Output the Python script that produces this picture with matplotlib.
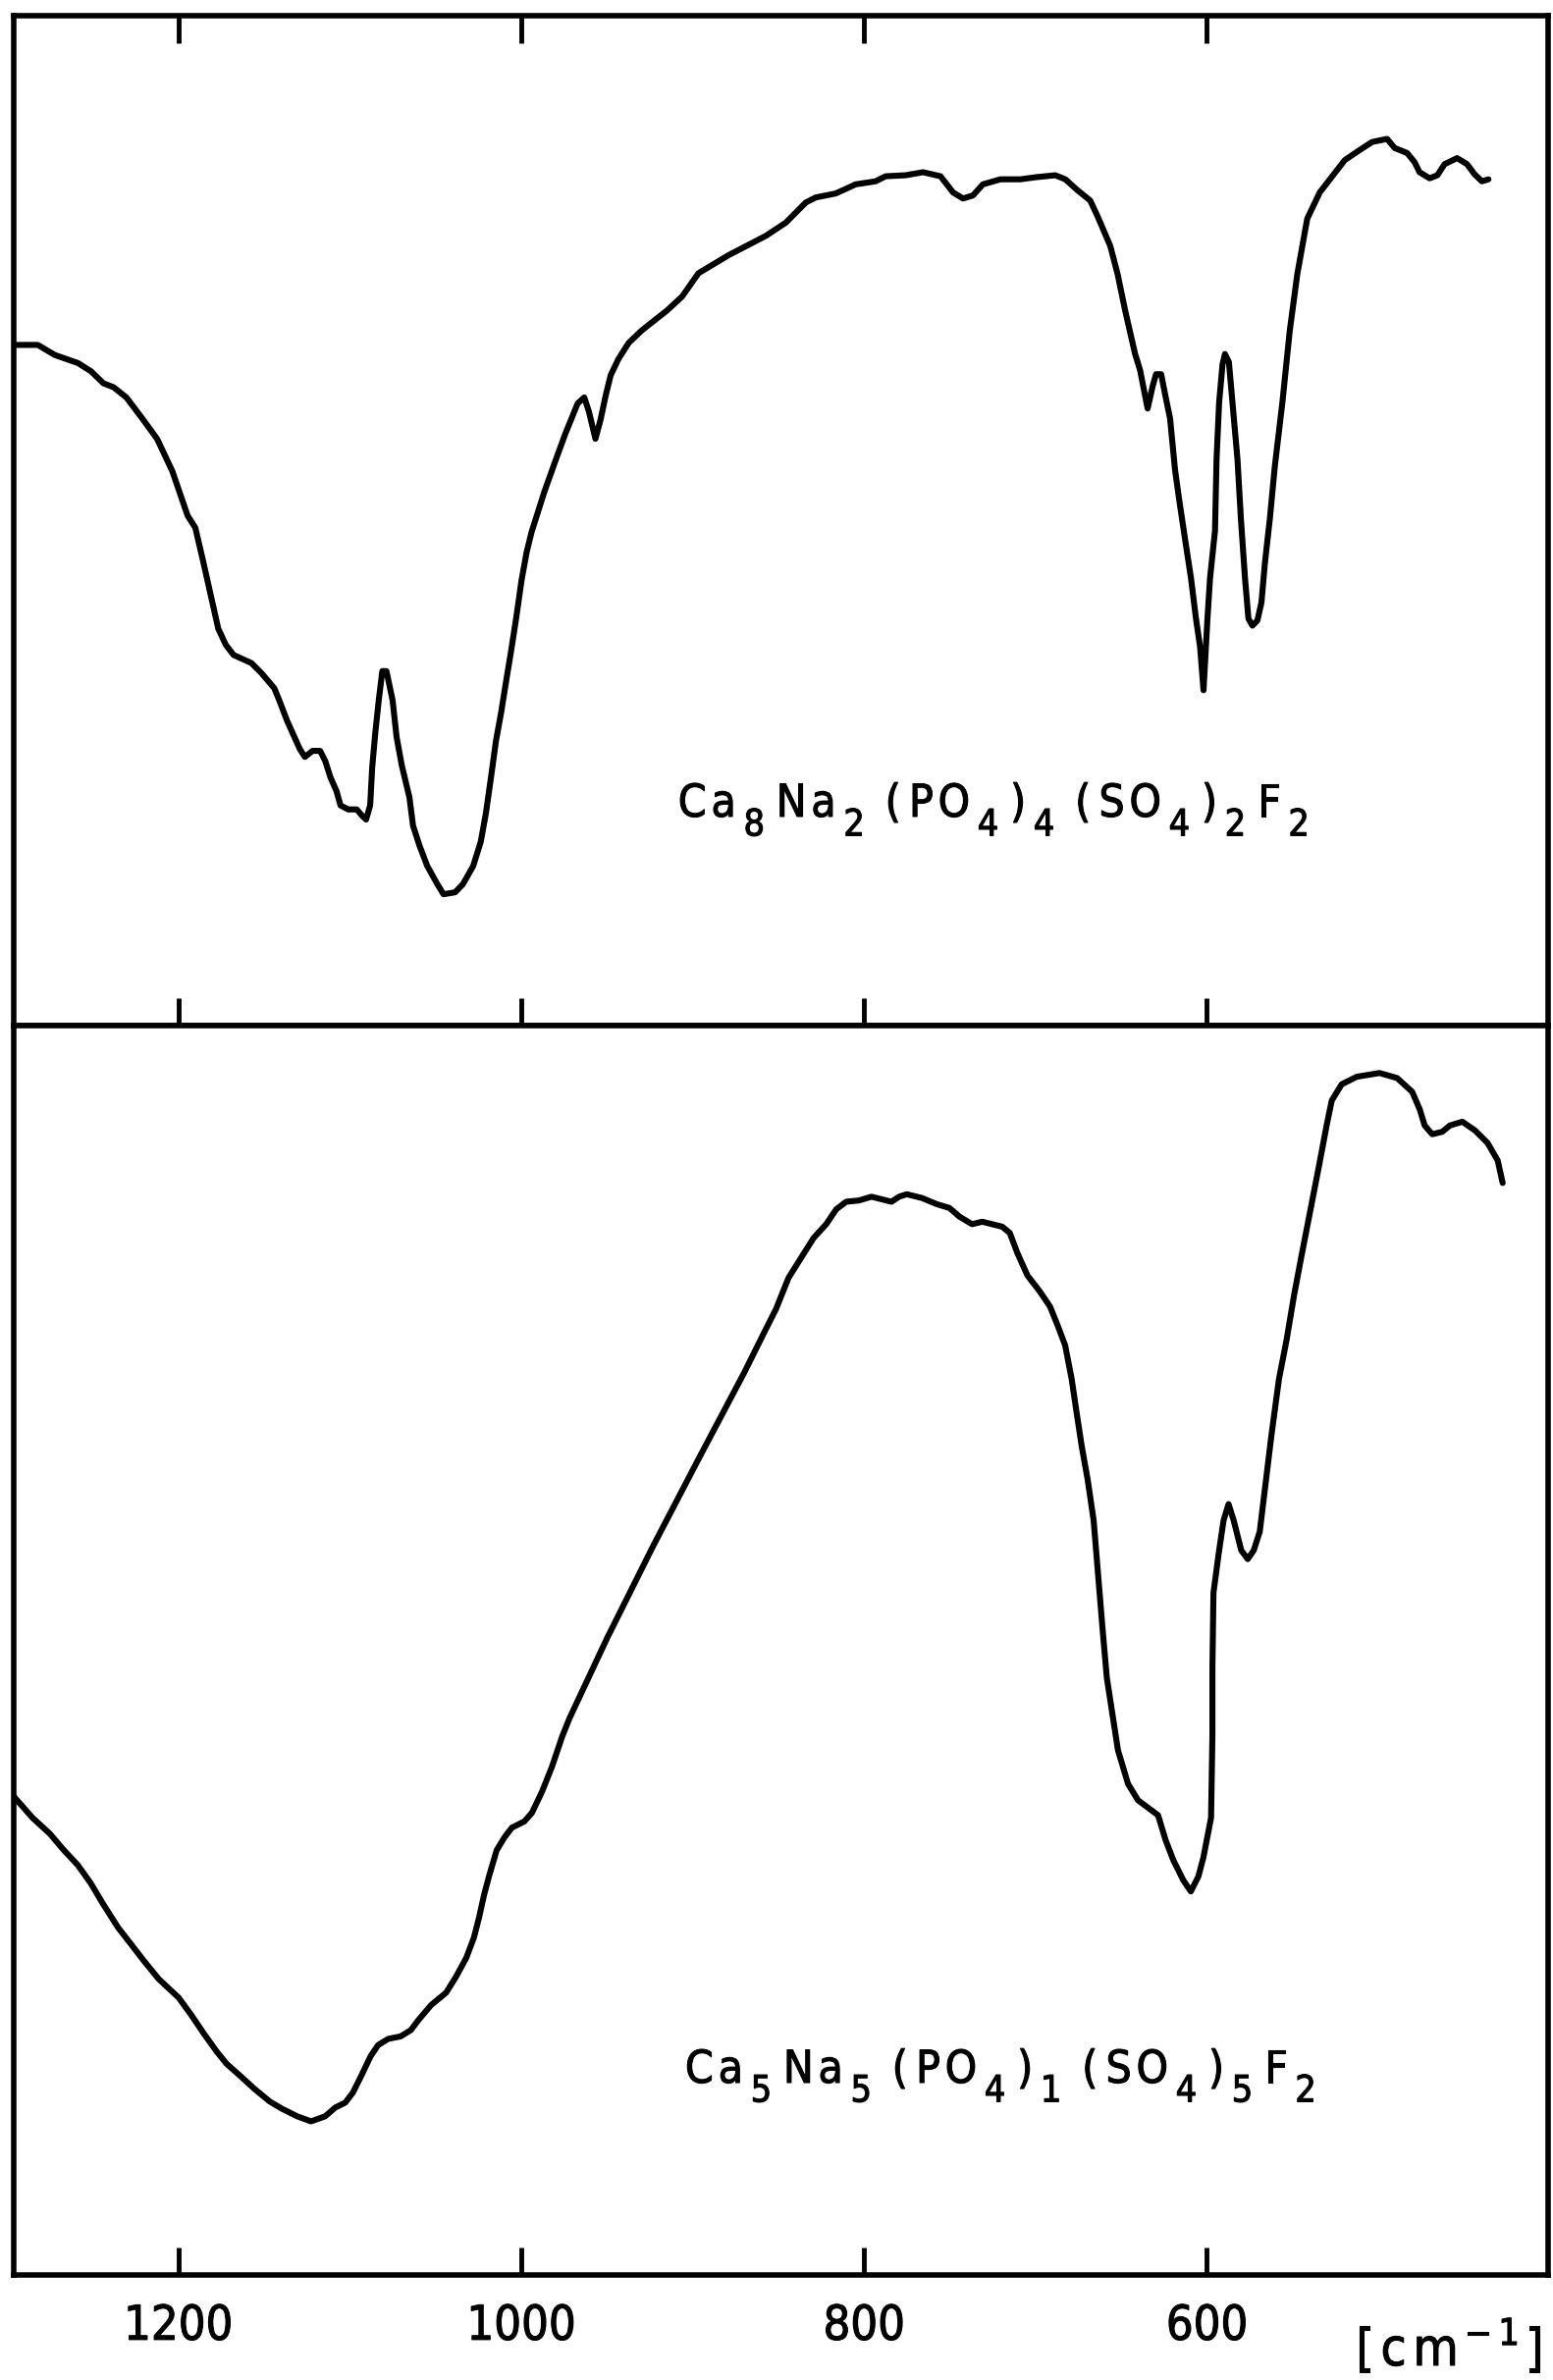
import matplotlib
matplotlib.use("Agg")
import matplotlib.pyplot as plt
from matplotlib import font_manager as fm
from matplotlib import patheffects as pe
from matplotlib.font_manager import FontProperties

# ---------------------------------------------------------------- data
top_wavenumber = [
    1296, 1282, 1272, 1258.5, 1251, 1243.7, 1237.7, 1230.3, 1221.4, 1212.4,
    1203.5, 1194.6, 1190.1, 1185.7, 1181.2, 1176.7, 1172.3, 1167.8, 1157.4, 1151.5,
    1144.0, 1141.1, 1136.6, 1129.2, 1126.2, 1121.7, 1117.3, 1114.3, 1111.3, 1107.7,
    1105.4, 1100.9, 1095.9, 1092.9, 1090.5, 1088.1, 1086.9, 1085.1, 1083.1, 1081.0,
    1078.6, 1075.0, 1072.7, 1069.7, 1065.2, 1063.1, 1059.3, 1054.8, 1048.9, 1045.3,
    1038.5, 1034.0, 1028.0, 1023.6, 1020.6, 1017.6, 1014.7, 1011.7, 1008.7, 1005.7,
    1002.8, 999.8, 996.8, 993.9, 990.9, 986.4, 980.5, 974.5, 967.1, 963.2,
    960.5, 956.7, 953.7, 950.7, 947.8, 943.3, 937.3, 929.9, 924.0, 915.0,
    906.1, 896.6, 878.9, 857.3, 845.7, 834.0, 828.2, 816.5, 804.9, 793.3,
    787.4, 775.8, 765.6, 755.4, 748.1, 742.3, 736.5, 730.7, 720.5, 708.8,
    700.1, 688.5, 682.6, 675.4, 668.1, 663.7, 656.4, 652.1, 647.7, 641.9,
    639.0, 634.6, 631.7, 629.7, 626.7, 624.4, 621.5, 618.6, 616.3, 612.8,
    609.3, 606.4, 604.0, 602.0, 599.7, 598.2, 595.3, 594.4, 592.9, 590.9,
    589.5, 587.2, 585.1, 582.2, 580.2, 577.8, 575.8, 573.5, 570.6, 568.2,
    566.2, 563.3, 560.4, 556.0, 551.7, 547.3, 541.5, 534.2, 526.9, 519.6,
    510.9, 503.6, 494.9, 490.5, 483.2, 478.9, 476.0, 470.1, 465.6, 461.4,
    454.1, 448.3, 443.9, 439.6, 435.8,
]
top_transmittance = [
    67.4, 67.4, 66.4, 65.6, 64.8, 63.6, 63.2, 62.2, 60.2, 58.1,
    54.9, 50.5, 49.3, 46.1, 42.7, 39.3, 37.7, 36.7, 35.9, 34.9,
    33.4, 32.2, 30.2, 27.4, 26.6, 27.2, 27.2, 26.2, 24.6, 23.2,
    21.8, 21.4, 21.4, 20.8, 20.4, 21.8, 25.6, 29.0, 32.2, 35.1,
    35.1, 32.2, 28.6, 25.8, 22.6, 19.8, 17.8, 15.8, 14.0, 13.0,
    13.2, 14.0, 15.8, 18.2, 21.0, 24.6, 28.2, 31.0, 34.2, 37.3,
    40.5, 44.1, 46.9, 48.9, 50.5, 52.9, 55.7, 58.5, 61.6, 62.2,
    60.8, 58.1, 60.0, 62.4, 64.4, 66.0, 67.6, 68.8, 69.6, 70.8,
    72.2, 74.5, 76.3, 78.2, 79.5, 81.5, 82.0, 82.4, 83.3, 83.6,
    84.1, 84.2, 84.5, 84.1, 82.5, 81.9, 82.2, 83.3, 83.8, 83.8,
    84.0, 84.2, 83.8, 82.7, 81.7, 80.1, 77.2, 74.4, 70.8, 66.5,
    64.9, 61.1, 63.3, 64.5, 64.5, 62.5, 60.1, 55.0, 52.2, 48.2,
    44.3, 40.3, 37.5, 33.2, 40.3, 44.3, 49.0, 56.1, 61.7, 65.5,
    66.5, 65.7, 61.7, 56.1, 50.2, 44.3, 40.3, 39.6, 40.1, 41.9,
    45.8, 50.2, 55.4, 61.7, 68.8, 74.4, 79.9, 82.5, 84.1, 85.7,
    86.7, 87.5, 87.8, 86.9, 86.4, 85.5, 84.5, 83.9, 84.2, 85.3,
    85.9, 85.3, 84.3, 83.6, 83.8,
]

bottom_wavenumber = [
    1296, 1285.1, 1274.8, 1267.4, 1258.6, 1251.3, 1243.9, 1235.1, 1227.7, 1220.4,
    1211.5, 1199.8, 1192.4, 1185.0, 1177.7, 1171.8, 1164.4, 1155.6, 1146.8, 1139.4,
    1130.6, 1122.6, 1114.4, 1108.5, 1102.6, 1098.2, 1093.8, 1087.9, 1083.5, 1077.6,
    1070.3, 1064.4, 1060.0, 1052.6, 1043.8, 1037.9, 1032.0, 1027.6, 1024.6, 1021.7,
    1018.8, 1014.3, 1009.9, 1005.5, 998.2, 993.7, 987.8, 982.0, 976.1, 971.7,
    949.8, 923.2, 896.6, 870.0, 857.3, 851.4, 844.1, 836.8, 829.4, 822.1,
    816.2, 810.4, 803.0, 795.7, 789.8, 784.0, 779.6, 775.1, 766.3, 757.5,
    750.2, 744.3, 737.0, 731.1, 719.4, 715.0, 710.6, 704.7, 697.4, 691.5,
    687.1, 682.7, 678.9, 676.0, 673.0, 669.5, 666.1, 663.7, 660.7, 658.4,
    654.9, 651.9, 646.0, 640.2, 634.3, 628.5, 624.1, 619.6, 613.8, 609.4,
    605.0, 602.1, 597.6, 596.8, 596.8, 596.2, 593.2, 590.3, 587.4, 584.4,
    580.0, 576.2, 572.7, 569.2, 566.8, 562.4, 558.0, 553.6, 549.2, 544.8,
    540.4, 534.6, 530.2, 527.2, 521.4, 512.6, 499.4, 489.1, 480.3, 475.9,
    473.0, 468.6, 462.7, 458.3, 451.0, 443.6, 436.3, 430.4, 427.5,
]
bottom_transmittance = [
    38.3, 36.6, 35.3, 34.1, 32.8, 31.4, 29.7, 27.8, 26.5, 25.2,
    23.7, 22.2, 20.8, 19.3, 17.9, 16.9, 16.0, 14.9, 13.9, 13.3,
    12.7, 12.3, 12.7, 13.4, 13.8, 14.6, 15.8, 17.5, 18.4, 18.9,
    19.1, 19.6, 20.4, 21.6, 22.6, 23.9, 25.4, 27.0, 28.6, 30.4,
    31.9, 34.0, 35.0, 35.8, 36.3, 37.0, 38.7, 40.7, 43.1, 44.6,
    51.0, 58.3, 65.3, 72.2, 75.7, 77.3, 79.8, 81.4, 83.0, 84.1,
    85.3, 85.9, 86.0, 86.3, 86.1, 85.9, 86.3, 86.5, 86.2, 85.7,
    85.4, 84.7, 84.1, 84.3, 83.9, 83.4, 81.8, 80.0, 78.7, 77.5,
    76.0, 74.4, 71.7, 69.0, 66.3, 63.6, 60.4, 56.4, 51.4, 47.8,
    44.7, 42.0, 39.3, 38.0, 37.4, 36.8, 34.8, 33.2, 31.6, 30.7,
    31.9, 33.4, 36.6, 43.3, 48.7, 54.6, 57.7, 60.4, 61.7, 60.4,
    58.0, 57.3, 58.0, 59.5, 62.2, 67.2, 71.7, 74.8, 78.4, 81.6,
    84.7, 88.8, 92.0, 94.0, 95.3, 95.9, 96.2, 95.8, 94.7, 93.3,
    92.0, 91.3, 91.5, 92.0, 92.3, 91.6, 90.6, 89.2, 87.4,
]

tick_values = [1200, 1000, 800, 600]
tick_labels = ["1200", "1000", "800", "600"]

# (text, shift): shift -1 = subscript, +1 = superscript, 0 = normal
top_formula = [("C", 0), ("a", 0), ("8", -1), ("N", 0), ("a", 0), ("2", -1),
               ("(", 0), ("P", 0), ("O", 0), ("4", -1), (")", 0), ("4", -1),
               ("(", 0), ("S", 0), ("O", 0), ("4", -1), (")", 0), ("2", -1),
               ("F", 0), ("2", -1)]
bottom_formula = [("C", 0), ("a", 0), ("5", -1), ("N", 0), ("a", 0), ("5", -1),
                  ("(", 0), ("P", 0), ("O", 0), ("4", -1), (")", 0), ("1", -1),
                  ("(", 0), ("S", 0), ("O", 0), ("4", -1), (")", 0), ("5", -1),
                  ("F", 0), ("2", -1)]
unit_label = [("[", 0), ("c", 0), ("m", 0), ("\u2212", 1), ("1", 1), ("]", 0)]


# ---------------------------------------------------------------- fonts
def condensed_font(size):
    for f in fm.fontManager.ttflist:
        if (f.name == "DejaVu Sans" and f.stretch == "condensed"
                and f.style == "normal" and f.weight in (400, "normal", "book")):
            return FontProperties(fname=f.fname, size=size)
    return FontProperties(family=["Liberation Sans Narrow", "DejaVu Sans"],
                          size=size)


fp_tick = condensed_font(35)
fp_main = condensed_font(33)
fp_sub = condensed_font(27)
fp_unit = condensed_font(38)
fp_sup = condensed_font(27)

heavy = [pe.withStroke(linewidth=0.8, foreground="black")]


def chain_text(ax, x, y, coords, tokens, fp_normal, fp_small, shift_pt,
               gaps=(3.5, 5.5, 6, 8.5, 15)):
    """Lay out a formula glyph by glyph, each piece placed after the last."""
    g_letter, g_before_sub, g_paren, g_after_sub, g_sub_paren = gaps
    prev = None
    prev_shift = 0
    prev_s = ""
    for s, shift in tokens:
        fp = fp_small if shift else fp_normal
        dy = shift * shift_pt
        if prev is None:
            t = ax.annotate(s, xy=(x, y), xycoords=coords, xytext=(0, dy),
                            textcoords="offset points", ha="left",
                            va="baseline", fontproperties=fp,
                            path_effects=heavy)
        else:
            if prev_shift and s == "(":
                gap = g_sub_paren
            elif prev_shift and shift == 0:
                gap = g_after_sub
            elif shift and not prev_shift:
                gap = g_before_sub
            elif s in "()[]" or prev_s in "()[]":
                gap = g_paren
            else:
                gap = g_letter
            t = ax.annotate(s, xy=(1, y), xycoords=(prev, coords),
                            xytext=(gap, dy), textcoords="offset points",
                            ha="left", va="baseline", fontproperties=fp,
                            path_effects=heavy)
        prev, prev_shift, prev_s = t, shift, s
    return prev


# ---------------------------------------------------------------- figure
fig = plt.figure(figsize=(15.82, 24.25), dpi=100)
left, width = 0.00885, 0.988
ax1 = fig.add_axes([left, 0.5691, width, 0.4243])
ax2 = fig.add_axes([left, 0.0441, width, 0.5250])

for ax in (ax1, ax2):
    ax.set_xlim(1296, 401)
    ax.set_ylim(0, 100)
    ax.set_yticks([])
    ax.set_xticks(tick_values)
    for sp in ax.spines.values():
        sp.set_linewidth(4.0)
        sp.set_color("black")

ax1.plot(top_wavenumber, top_transmittance, color="black", lw=4.4,
         solid_joinstyle="round", solid_capstyle="round")
ax2.plot(bottom_wavenumber, bottom_transmittance, color="black", lw=4.4,
         solid_joinstyle="round", solid_capstyle="round")

ax1.tick_params(axis="x", direction="in", top=True, bottom=True,
                labelbottom=False, length=20, width=3.5)
ax2.tick_params(axis="x", direction="in", top=False, bottom=True,
                labelbottom=True, length=20, width=3.5, pad=20)
ax2.set_xticklabels(tick_labels)
for lbl in ax2.get_xticklabels():
    lbl.set_fontproperties(fp_tick)
    lbl.set_path_effects(heavy)

chain_text(ax1, 0.433, 0.207, "axes fraction", top_formula,
           fp_main, fp_sub, 14)
chain_text(ax2, 0.4376, 0.154, "axes fraction", bottom_formula,
           fp_main, fp_sub, 14)
chain_text(ax2, 0.873, 0.0062, "figure fraction", unit_label,
           fp_unit, fp_sup, 15, gaps=(5, 4, 5, 4, 4))

fig.savefig("out.png", dpi=100)
